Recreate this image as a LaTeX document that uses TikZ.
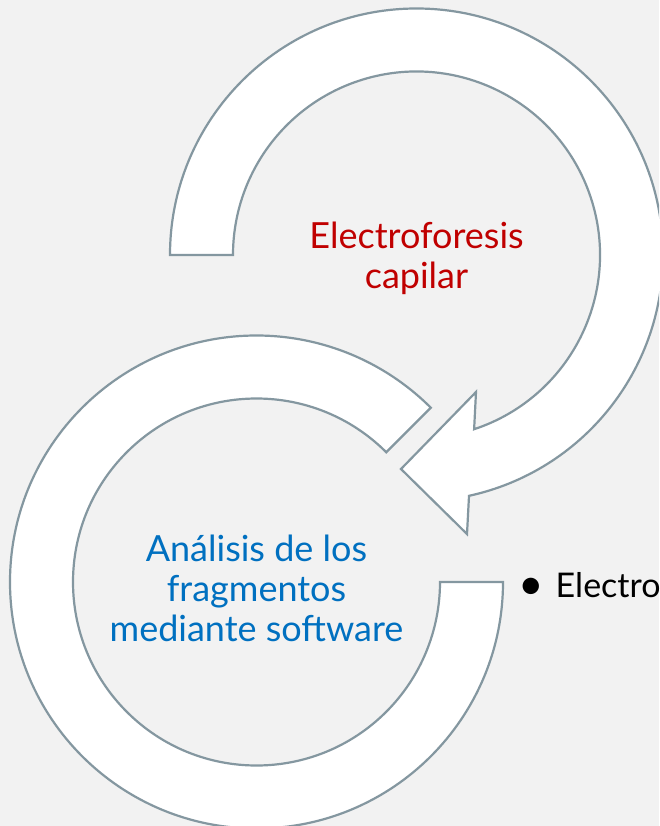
\documentclass[tikz,border=0pt]{standalone}
\usepackage{fontspec}
\setmainfont{Lato}
\definecolor{bgc}{HTML}{F2F2F2}
\definecolor{ringc}{RGB}{132,151,160}
\definecolor{redt}{HTML}{C00000}
\definecolor{bluet}{HTML}{0070C0}
\tikzset{
  ring/.style={draw=ringc, fill=white, line width=2.2pt, line join=miter},
  bigtext/.style={align=center, font=\fontsize{36}{40}\selectfont, inner sep=0pt},
}
\begin{document}
\begin{tikzpicture}[x=1pt,y=1pt]
\useasboundingbox (0,0) rectangle (659,-826);
\fill[bgc] (0,0) rectangle (659,-826);
\clip (0,0) rectangle (659,-826);
% top ring with arrowhead
\coordinate (c1) at (416.5,-255);
\draw[ring] ([shift={(180:246.5)}]c1) arc[start angle=180, end angle=-77.7, radius=246.5]
  -- (467,-534) -- (401,-469) -- (476,-392)
  -- ([shift={(-71.7:183.5)}]c1)
  arc[start angle=-71.7, end angle=180, radius=183.5] -- cycle;
% bottom ring
\coordinate (c2) at (256.5,-582);
\draw[ring] ([shift={(0:246.5)}]c2) arc[start angle=0, end angle=-315, radius=246.5]
  -- ([shift={(45:183.5)}]c2) arc[start angle=45, end angle=360, radius=183.5] -- cycle;
\node[bigtext, text=redt] (t1) at (416.5,-258) {Electroforesis\\capilar};
\node[bigtext, text=bluet] (t2) at (256.5,-588) {Análisis de los\\fragmentos\\mediante software};
\node[anchor=base west, inner sep=0pt, font=\fontsize{34}{40}\selectfont] (t3) at (518,-597) {{\fontsize{44}{40}\selectfont\raisebox{-2pt}{•}}\hspace{12pt}Electro};
\end{tikzpicture}
\end{document}
